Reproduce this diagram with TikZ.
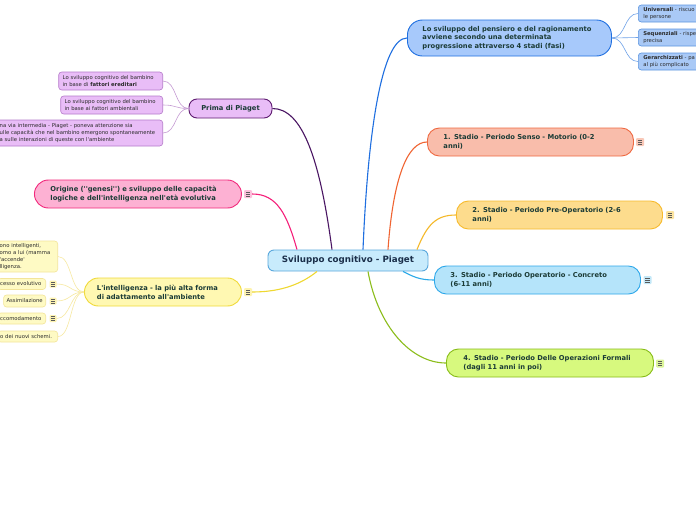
\documentclass[tikz,border=0pt]{standalone}
\usepackage{fontspec}
\newfontfamily\mf{DejaVu Sans}
\newcommand\nb[1]{\mbox{#1}}
\definecolor{tcol}{HTML}{1B3B36}
\definecolor{ccol}{HTML}{1B2F4A}
\definecolor{lcol}{HTML}{2A2A2A}
\definecolor{icol}{HTML}{5A5A5A}
\definecolor{cfill}{RGB}{200,235,252}
\definecolor{cdraw}{RGB}{90,168,220}
\definecolor{bigfill}{RGB}{167,201,251}
\definecolor{bigdraw}{RGB}{31,111,224}
\definecolor{bleaffill}{RGB}{169,201,246}
\definecolor{bleafdraw}{RGB}{92,149,224}
\definecolor{bleafline}{RGB}{111,162,232}
\definecolor{sAfill}{RGB}{249,189,171}
\definecolor{sAdraw}{RGB}{239,106,66}
\definecolor{sAline}{RGB}{240,100,50}
\definecolor{sAicon}{RGB}{249,200,184}
\definecolor{sBfill}{RGB}{253,220,141}
\definecolor{sBdraw}{RGB}{247,187,46}
\definecolor{sBline}{RGB}{245,185,42}
\definecolor{sBicon}{RGB}{251,227,160}
\definecolor{sCfill}{RGB}{181,228,250}
\definecolor{sCdraw}{RGB}{46,168,234}
\definecolor{sCline}{RGB}{42,169,232}
\definecolor{sCicon}{RGB}{196,232,248}
\definecolor{sDfill}{RGB}{215,249,126}
\definecolor{sDdraw}{RGB}{136,188,24}
\definecolor{sDline}{RGB}{140,189,28}
\definecolor{sDicon}{RGB}{220,245,154}
\definecolor{pfill}{RGB}{233,189,247}
\definecolor{pdraw}{RGB}{94,27,112}
\definecolor{pline}{RGB}{74,22,99}
\definecolor{pleafdraw}{RGB}{181,123,202}
\definecolor{pleafline}{RGB}{197,154,211}
\definecolor{ofill}{RGB}{253,177,211}
\definecolor{odraw}{RGB}{242,41,124}
\definecolor{oline}{RGB}{245,32,122}
\definecolor{oicon}{RGB}{252,192,220}
\definecolor{lifill}{RGB}{255,248,178}
\definecolor{lidraw}{RGB}{240,218,58}
\definecolor{liline}{RGB}{239,216,48}
\definecolor{liicon}{RGB}{253,243,176}
\definecolor{yleaffill}{RGB}{254,250,196}
\definecolor{yleafdraw}{RGB}{243,229,154}
\definecolor{yleafline}{RGB}{247,233,160}
\begin{document}
\begin{tikzpicture}[x=1pt,y=-1pt,font=\mf,
  bigtxt/.style={font=\mf\bfseries\fontsize{6.75}{8.8}\selectfont},
  stage/.style={draw,line width=0.9pt,rounded corners=12pt,align=left,bigtxt,
    minimum height=28pt,inner ysep=0pt,anchor=west,text=tcol},
  leaf/.style={draw,line width=0.6pt,rounded corners=3pt,align=left,
    font=\mf\fontsize{5.3}{7}\selectfont,inner ysep=0pt,anchor=east,text=lcol},
  icon/.style={minimum size=8pt,inner sep=0pt,rounded corners=1pt,
    path picture={\foreach \yy in {-2,0,2}
      \draw[line width=0.5pt,icol] ([xshift=-2.2pt,yshift=\yy pt]path picture bounding box.center)
        -- ([xshift=2.2pt,yshift=\yy pt]path picture bounding box.center);}},
  main/.style={line width=1.1pt},
  thin/.style={line width=0.6pt}]
\useasboundingbox (0,0) rectangle (696,520);
\fill[white] (0,0) rectangle (696,520);

% central
\node[draw=cdraw,fill=cfill,line width=0.9pt,
  rounded corners=6pt,minimum width=160pt,minimum height=21pt,inner sep=0pt,
  font=\mf\bfseries\fontsize{8.7}{10}\selectfont,text=ccol] (c) at (348,260.5) {Sviluppo cognitivo - Piaget};

% big top-right node
\node[stage,fill=bigfill,draw=bigdraw,
  text width=174pt,inner xsep=15pt,minimum height=36pt,rounded corners=15pt] (big) at (407,38)
  {\nb{Lo sviluppo del pensiero e del ragionamento}\\\nb{avviene secondo una determinata}\\\nb{progressione attraverso 4 stadi (fasi)}};

\tikzset{bleaf/.style={leaf,anchor=west,fill=bleaffill,draw=bleafdraw,text width=75pt,inner xsep=5pt,minimum height=17pt}}
\node[bleaf] (u1) at (638,13.5) {\textbf{Universali} - riscuo\\le persone};
\node[bleaf] (u2) at (638,37.5) {\textbf{Sequenziali} - rispe\\precisa};
\node[bleaf] (u3) at (638,61.5) {\textbf{Gerarchizzati} - pa\\al più complicato};

% stages
\node[stage,fill=sAfill,draw=sAdraw,text width=174pt,inner xsep=16pt] (s1) at (427,142) {\nb{1. Stadio - Periodo Senso - Motorio (0-2}\\anni)};
\node[stage,fill=sBfill,draw=sBdraw,text width=174pt,inner xsep=16pt] (s2) at (456,215) {\nb{2. Stadio - Periodo Pre-Operatorio (2-6}\\anni)};
\node[stage,fill=sCfill,draw=sCdraw,text width=174pt,inner xsep=16pt] (s3) at (434,280) {\nb{3. Stadio - Periodo Operatorio - Concreto}\\(6-11 anni)};
\node[stage,fill=sDfill,draw=sDdraw,text width=173pt,inner xsep=17pt] (s4) at (446,363) {\nb{4. Stadio - Periodo Delle Operazioni Formali}\\(dagli 11 anni in poi)};

\node[icon,fill=sAicon] (i1) at (640,142) {};
\node[icon,fill=sBicon] (i2) at (670,215) {};
\node[icon,fill=sCicon] (i3) at (647.5,280) {};
\node[icon,fill=sDicon] (i4) at (660,363.5) {};

% Prima di Piaget
\node[draw=pdraw,fill=pfill,line width=0.9pt,
  rounded corners=8pt,minimum width=83pt,minimum height=19pt,inner sep=0pt,bigtxt,text=tcol]
  (p) at (230.5,108.5) {Prima di Piaget};
\tikzset{pleaf/.style={leaf,fill=pfill,draw=pleafdraw}}
\node[pleaf,text width=96pt,inner xsep=4pt,minimum height=18pt] (pl1) at (163,81)
  {\nb{Lo sviluppo cognitivo del bambino}\\in base di \textbf{fattori ereditari}};
\node[pleaf,text width=94pt,inner xsep=4pt,minimum height=18pt] (pl2) at (163,105)
  {\nb{Lo sviluppo cognitivo del bambino}\\in base ai fattori ambientali};
\node[pleaf,text width=157pt,inner xsep=6pt,minimum height=26pt] (pl3) at (163,133)
  {\nb{na via intermedia - Piaget - poneva attenzione sia}\\\nb{ulle capacità che nel bambino emergono spontaneamente}\\\nb{a sulle interazioni di queste con l'ambiente}};

% Origine
\node[stage,fill=ofill,draw=odraw,text width=175pt,inner xsep=16pt,rounded corners=14pt] (o) at (34,194)
  {\nb{Origine (''genesi'') e sviluppo delle capacità}\\\nb{logiche e dell'intelligenza nell'età evolutiva}};
\node[icon,fill=oicon] (io) at (248,194) {};

% Intelligenza
\node[stage,fill=lifill,draw=lidraw,text width=132pt,inner xsep=12.5pt,rounded corners=14pt] (li) at (84,292)
  {\nb{L'intelligenza - la più alta forma}\\\nb{di adattamento all'ambiente}};
\node[icon,fill=liicon] (ii) at (248,292) {};

\tikzset{yleaf/.style={leaf,fill=yleaffill,draw=yleafdraw}}
\node[yleaf,text width=54pt,inner xsep=4pt,minimum height=31pt] (y1) at (58,256.5)
  {\nb{ono intelligenti,}\\\nb{omo a lui (mamma}\\\nb{'accende'}\\\nb{lligenza.}};
\node[yleaf,text width=43pt,inner xsep=2.5pt,minimum height=11pt] (y2) at (46,284) {\nb{cesso evolutivo}};
\node[yleaf,inner xsep=3pt,minimum height=12pt] (y3) at (46,301) {Assimilazione};
\node[yleaf,text width=43pt,inner xsep=2.5pt,minimum height=11pt] (y4) at (46,318.5) {\nb{ccomodamento}};
\node[yleaf,text width=55pt,inner xsep=2.5pt,minimum height=11pt] (y5) at (58,336.5) {\nb{o dei nuovi schemi.}};
\node[icon,minimum size=7pt,fill=liicon] (iy2) at (53,284) {};
\node[icon,minimum size=7pt,fill=liicon] (iy3) at (53,301) {};
\node[icon,minimum size=7pt,fill=liicon] (iy4) at (53,318.5) {};

% main connectors
\draw[main,pline] ([xshift=-16pt]c.north) .. controls +(-12,-90) and +(30,0) .. (p.east);
\draw[main,oline] ([xshift=-51pt]c.north) .. controls +(-10,-35) and +(25,0) .. (io.east);
\draw[main,bigdraw] ([xshift=15pt]c.north) .. controls +(5,-120) and +(-25,0) .. (big.west);
\draw[main,sAline] ([xshift=40pt]c.north) .. controls +(5,-70) and +(-20,0) .. (s1.west);
\draw[main,sBline] ([xshift=69pt]c.north) .. controls +(10,-25) and +(-20,0) .. (s2.west);
\draw[main,sCline] ([xshift=55pt]c.south) .. controls +(10,5) and +(-15,0) .. (s3.west);
\draw[main,sDline] ([xshift=20pt]c.south) .. controls +(10,55) and +(-35,0) .. (s4.west);
\draw[main,liline] ([xshift=-31pt]c.south) .. controls +(-15,12) and +(30,0) .. (ii.east);

% leaf connectors
\foreach \n in {u1,u2,u3}
  \draw[thin,bleafline] (big.east) .. controls +(14,0) and +(-14,0) .. (\n.west);
\foreach \n in {pl1,pl2,pl3}
  \draw[thin,pleafline] (p.west) .. controls +(-14,0) and +(14,0) .. (\n.east);
\foreach \n in {y1,iy2,iy3,iy4,y5}
  \draw[thin,yleafline] (li.west) .. controls +(-14,0) and +(14,0) .. (\n.east);
\end{tikzpicture}
\end{document}
